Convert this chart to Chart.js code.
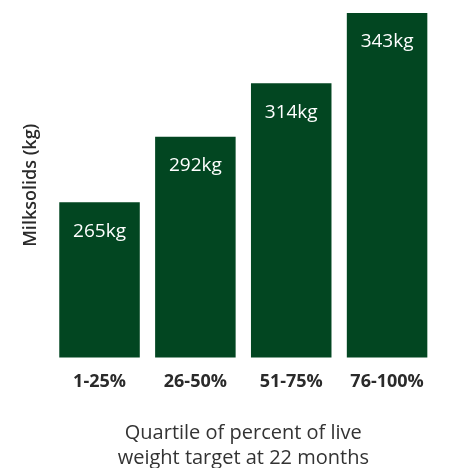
<!DOCTYPE html>
<html>
<head>
<meta charset="utf-8">
<script src="https://cdn.jsdelivr.net/npm/chart.js@4"></script>
<style>
html,body{margin:0;padding:0;background:#fff;}
#wrap{position:relative;width:452px;height:468px;}
</style>
</head>
<body>
<div id="wrap"><canvas id="c"></canvas></div>
<script>
const categories = ['1-25%', '26-50%', '51-75%', '76-100%'];
const milksolids = [265, 292, 314, 343];
const valueLabels = ['265kg', '292kg', '314kg', '343kg'];
const yTitle = 'Milksolids (kg)';
const xTitle = ['Quartile of percent of live', 'weight target at 22 months'];

const FONT = "'Open Sans', Lato, sans-serif";

const insideLabels = {
  id: 'insideLabels',
  afterDatasetsDraw(chart) {
    const ctx = chart.ctx;
    const meta = chart.getDatasetMeta(0);
    ctx.save();
    ctx.fillStyle = '#ffffff';
    ctx.font = '19px ' + FONT;
    ctx.textAlign = 'center';
    ctx.textBaseline = 'middle';
    meta.data.forEach((bar, i) => {
      ctx.fillText(valueLabels[i], bar.x, bar.y + 29);
    });
    ctx.restore();
  }
};

new Chart(document.getElementById('c'), {
  type: 'bar',
  data: {
    labels: categories,
    datasets: [{
      data: milksolids,
      backgroundColor: '#024621',
      borderWidth: 0,
      barPercentage: 0.84,
      categoryPercentage: 1.0
    }]
  },
  options: {
    responsive: true,
    maintainAspectRatio: false,
    animation: false,
    layout: { padding: { left: 20, right: 17, top: 13, bottom: -3 } },
    plugins: { legend: { display: false }, tooltip: { enabled: false } },
    scales: {
      x: {
        grid: { display: false, drawTicks: false },
        border: { display: false },
        ticks: { color: '#2a2a2a', font: { family: FONT, size: 18, weight: 'bold', lineHeight: 1.2 }, padding: 14 },
        title: {
          display: true,
          text: xTitle,
          color: '#333333',
          font: { family: FONT, size: 20, lineHeight: 1.25 },
          padding: { top: 14, bottom: 0 }
        }
      },
      y: {
        min: 201,
        max: 343,
        grid: { display: false, drawTicks: false },
        border: { display: false },
        ticks: { display: false },
        title: {
          display: true,
          text: yTitle,
          color: '#2a2a2a',
          font: { family: FONT, size: 18, weight: '600', lineHeight: 1.2 },
          padding: { top: 0, bottom: 10 }
        }
      }
    }
  },
  plugins: [insideLabels]
});
</script>
</body>
</html>
